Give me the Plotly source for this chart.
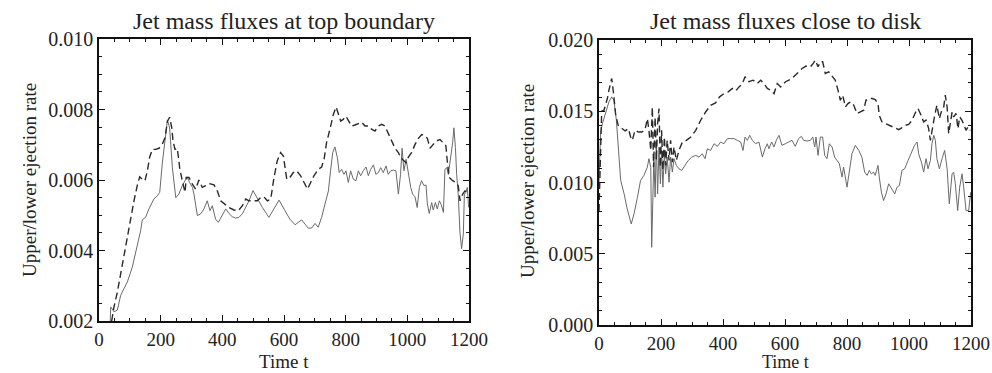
import plotly.graph_objects as go

# ---------------- data: left panel (top boundary) ----------------
t_top_solid = [36, 38, 48.6, 59.5, 70.3, 81, 92, 108, 124, 135, 140.5, 151, 162, 178, 189, 197, 205, 214, 222, 229, 238, 249, 259, 270, 279, 286, 294, 303, 308, 313.5, 319, 330, 340.5, 351, 360, 367.5, 378, 387, 400, 411, 421.6, 432, 443, 454, 465, 476, 486.5, 499.5, 513.5, 530, 551, 567.6, 584, 603, 619, 636, 646, 657, 668, 679, 690, 700.5, 711, 722, 733, 744, 751, 758, 765, 773, 779, 787, 794.5, 801, 808.6, 816, 825, 833.5, 841, 848.6, 857, 866, 873.5, 881, 890, 898, 906, 913.5, 922, 931, 938, 946, 954.5, 963, 971, 978, 983, 989, 996, 1003, 1011, 1017, 1025, 1032, 1039, 1046, 1054, 1060.5, 1065, 1071, 1079, 1084, 1091, 1097, 1104, 1110, 1117, 1122, 1128, 1133, 1140.5, 1147, 1151, 1156, 1160, 1165, 1171, 1176, 1181.6, 1185, 1190, 1194.5, 1199]
v_top_solid = [0.0019, 0.0024, 0.00226, 0.00231, 0.00273, 0.00292, 0.00311, 0.00353, 0.00409, 0.00456, 0.00487, 0.00494, 0.00518, 0.00546, 0.00555, 0.00565, 0.00645, 0.0072, 0.0077, 0.00748, 0.00635, 0.0055, 0.0056, 0.00584, 0.00598, 0.00609, 0.00593, 0.00579, 0.0056, 0.00522, 0.00499, 0.00504, 0.00518, 0.00541, 0.00513, 0.00527, 0.00489, 0.0048, 0.00499, 0.00518, 0.00505, 0.00496, 0.00492, 0.00494, 0.00504, 0.00522, 0.00541, 0.0057, 0.00546, 0.00522, 0.00494, 0.00518, 0.00543, 0.00513, 0.00489, 0.00473, 0.0048, 0.00487, 0.00475, 0.00463, 0.00464, 0.00477, 0.00466, 0.00494, 0.00532, 0.00569, 0.00626, 0.00678, 0.00694, 0.00664, 0.00621, 0.0063, 0.00616, 0.00626, 0.00593, 0.00626, 0.00602, 0.00598, 0.00626, 0.00612, 0.00626, 0.00637, 0.00612, 0.0063, 0.00643, 0.00616, 0.00621, 0.00635, 0.00621, 0.0064, 0.00616, 0.00626, 0.00628, 0.00626, 0.0056, 0.00616, 0.0069, 0.00626, 0.00659, 0.00616, 0.00579, 0.0056, 0.00552, 0.00522, 0.00579, 0.00598, 0.00584, 0.00586, 0.00532, 0.00505, 0.00536, 0.00515, 0.00536, 0.00518, 0.00541, 0.0053, 0.00508, 0.0063, 0.00635, 0.00616, 0.00659, 0.00706, 0.00748, 0.00692, 0.00616, 0.0056, 0.00447, 0.00405, 0.00447, 0.0056, 0.00565, 0.00579, 0.00522]

t_top_dash = [41, 48.6, 59.5, 70, 81, 92, 103, 113.5, 124, 132, 140.5, 149, 157, 164, 173, 184, 194.6, 205, 214, 222, 229, 236, 240, 246.5, 254, 261.6, 270, 279, 283, 292, 303, 313.5, 324, 335, 346, 357, 373, 384, 394.6, 408.6, 421.6, 438, 452, 465, 476, 486.5, 499.5, 513.5, 524, 535, 546, 557, 567.6, 578, 589, 598, 609, 619, 630, 641, 654, 665, 676, 686.5, 697, 711, 722, 730, 738, 749, 760, 769, 776, 784, 792, 801, 808.6, 819, 830, 841, 852, 862.6, 873.5, 884, 895, 906, 917, 927.5, 938, 949, 960, 971, 978, 987, 996, 1003, 1014, 1025, 1036, 1046.5, 1057, 1065, 1073.5, 1084, 1095, 1106, 1117, 1125, 1130, 1136, 1147, 1158, 1165, 1171, 1179.5, 1187, 1194.5, 1200]
v_top_dash = [0.0020, 0.0024, 0.00282, 0.00334, 0.00381, 0.00433, 0.00494, 0.00541, 0.00584, 0.00609, 0.00602, 0.00598, 0.00626, 0.00664, 0.00687, 0.00687, 0.0069, 0.00701, 0.0072, 0.00767, 0.00778, 0.00748, 0.00711, 0.00687, 0.0069, 0.00635, 0.00598, 0.00565, 0.00607, 0.00607, 0.00588, 0.00574, 0.006, 0.00579, 0.00584, 0.0059, 0.00586, 0.00569, 0.00541, 0.00532, 0.00522, 0.00515, 0.00513, 0.00527, 0.00546, 0.00541, 0.00541, 0.00541, 0.0055, 0.00552, 0.00541, 0.00546, 0.00607, 0.00654, 0.00678, 0.00668, 0.00602, 0.00607, 0.00621, 0.00626, 0.00612, 0.00593, 0.00574, 0.00593, 0.00612, 0.0063, 0.00637, 0.00659, 0.00706, 0.00744, 0.00786, 0.00807, 0.00791, 0.00767, 0.00772, 0.00781, 0.00769, 0.00753, 0.00756, 0.0076, 0.00764, 0.00753, 0.00753, 0.00744, 0.00739, 0.00753, 0.00758, 0.00753, 0.00734, 0.00711, 0.0069, 0.00678, 0.00664, 0.00656, 0.00649, 0.00664, 0.00678, 0.00701, 0.00718, 0.00729, 0.00725, 0.00718, 0.0069, 0.00701, 0.00711, 0.00715, 0.00706, 0.00697, 0.00649, 0.00607, 0.00598, 0.00593, 0.00584, 0.00541, 0.0056, 0.00569, 0.00565, 0.0056]

# ---------------- data: right panel (close to disk) ----------------
t_disk_solid = [0, 5, 11, 21.5, 32, 41, 48, 56, 62, 70, 81, 91, 104, 113, 124, 134, 145, 156, 161, 167, 170, 174, 177, 181, 185, 189, 193.5, 198, 202, 206, 211, 215, 220, 226, 231, 236.6, 242, 249.5, 258, 267, 277, 288, 299, 312, 322.6, 333, 342, 349.5, 360, 371, 382, 392.5, 403, 414, 425, 435.5, 446, 457, 464.5, 471, 478.5, 486, 494.6, 505, 516, 527, 535.5, 543, 548, 557, 564.5, 572, 580.6, 590, 601, 612, 622.6, 633, 644, 653, 660, 671, 682, 689.5, 696, 700, 706.5, 714, 721.5, 728, 735.5, 743, 752, 760, 768, 775.3, 784, 789, 800, 807.5, 816, 827, 838, 848, 857, 865, 872, 878.5, 886, 891, 900, 904, 911, 918, 926, 934.4, 945, 954, 961.3, 969, 977.4, 986, 997, 1010, 1018, 1026, 1031, 1040, 1047.3, 1055, 1061.3, 1069, 1074, 1080, 1085, 1090, 1098, 1106.5, 1115, 1123, 1130, 1139, 1144, 1149.5, 1157, 1163.5, 1171, 1176.4, 1184, 1192.5, 1199]
v_disk_solid = [0.0100, 0.0135, 0.01413, 0.01484, 0.01566, 0.01601, 0.01577, 0.01437, 0.01225, 0.01014, 0.0092, 0.00815, 0.00709, 0.0078, 0.00897, 0.01014, 0.0105, 0.01108, 0.01167, 0.01108, 0.00545, 0.01014, 0.01178, 0.00897, 0.01296, 0.0092, 0.01249, 0.00991, 0.01225, 0.00967, 0.01202, 0.01061, 0.01178, 0.01002, 0.01178, 0.01073, 0.01167, 0.0112, 0.01096, 0.01085, 0.0112, 0.01155, 0.01178, 0.0119, 0.01178, 0.01202, 0.01167, 0.01237, 0.01225, 0.01272, 0.01254, 0.01284, 0.01272, 0.01308, 0.01308, 0.01308, 0.01296, 0.01284, 0.01225, 0.01319, 0.01296, 0.01331, 0.01296, 0.01272, 0.01284, 0.01178, 0.01237, 0.01272, 0.01237, 0.01284, 0.01249, 0.01296, 0.01331, 0.01261, 0.01272, 0.01284, 0.01296, 0.01254, 0.01308, 0.01324, 0.01296, 0.01291, 0.01296, 0.01319, 0.01249, 0.01319, 0.0119, 0.01319, 0.01319, 0.0119, 0.01167, 0.01272, 0.01249, 0.01178, 0.01155, 0.01132, 0.01038, 0.01108, 0.00967, 0.01085, 0.01202, 0.01261, 0.01225, 0.01178, 0.01073, 0.0105, 0.01085, 0.01061, 0.01073, 0.0105, 0.0112, 0.01038, 0.00932, 0.00873, 0.0092, 0.00991, 0.00955, 0.0092, 0.00967, 0.00979, 0.01085, 0.01096, 0.01155, 0.01214, 0.01261, 0.01284, 0.01202, 0.01143, 0.01073, 0.01167, 0.01096, 0.01155, 0.01272, 0.01331, 0.01296, 0.01167, 0.01096, 0.01167, 0.01225, 0.01096, 0.0085, 0.01061, 0.01073, 0.00991, 0.00803, 0.00967, 0.01061, 0.00967, 0.00803, 0.00803, 0.00932]

t_disk_dash = [0, 4, 8.6, 16, 27, 32, 41, 47, 54, 62, 73, 84, 95, 102, 107.5, 116, 127, 137.6, 148, 156, 161, 167, 172, 176, 181, 185, 189, 193.5, 198, 202, 206, 211, 215, 220, 226, 231, 236.6, 242, 249.5, 258, 269, 282, 296, 312, 328, 344, 360, 376, 389, 403, 417, 430, 441, 451.6, 462, 471, 484, 497, 511, 521.5, 532, 543, 554, 564.5, 575, 586, 602, 622.6, 639, 655, 668, 682, 689.5, 698, 706.5, 714, 721.5, 730, 741, 752, 762, 771, 778.5, 786, 795, 803, 812, 822, 832, 843, 854, 861, 870, 881, 891, 900, 904, 913, 924, 934.4, 945, 956, 967, 977.4, 988, 999, 1010, 1020, 1029, 1036.5, 1047.3, 1055, 1063.5, 1069, 1076, 1083, 1090, 1098, 1104, 1112, 1117, 1123, 1128, 1133, 1139, 1144, 1152, 1158, 1163.5, 1171, 1176.4, 1184, 1190, 1198]
v_disk_dash = [0.0080, 0.0115, 0.015, 0.01507, 0.01589, 0.01648, 0.0173, 0.01624, 0.01472, 0.01401, 0.01378, 0.01362, 0.01378, 0.01319, 0.01296, 0.01366, 0.01354, 0.01354, 0.01366, 0.01448, 0.01366, 0.01225, 0.0153, 0.01108, 0.0146, 0.01155, 0.01413, 0.01519, 0.01108, 0.01366, 0.01085, 0.01319, 0.0112, 0.01296, 0.01155, 0.01296, 0.01143, 0.01249, 0.01155, 0.01225, 0.01284, 0.01296, 0.01319, 0.01366, 0.01437, 0.01495, 0.01542, 0.01559, 0.01601, 0.01624, 0.01636, 0.0166, 0.01643, 0.01671, 0.0169, 0.01742, 0.01707, 0.01718, 0.01695, 0.01718, 0.01695, 0.0166, 0.01648, 0.01624, 0.01695, 0.01671, 0.01707, 0.0173, 0.01765, 0.018, 0.01817, 0.01812, 0.01831, 0.01859, 0.01812, 0.01847, 0.01847, 0.01765, 0.01777, 0.01742, 0.01718, 0.01648, 0.01577, 0.01613, 0.0153, 0.01554, 0.01566, 0.01542, 0.01484, 0.01495, 0.01507, 0.01577, 0.01589, 0.01589, 0.01582, 0.01554, 0.01472, 0.01425, 0.01413, 0.01401, 0.0139, 0.01378, 0.01371, 0.01385, 0.01401, 0.01408, 0.01437, 0.01488, 0.01519, 0.01484, 0.01425, 0.01437, 0.01378, 0.01296, 0.01401, 0.01472, 0.01542, 0.01448, 0.01495, 0.0153, 0.01613, 0.0153, 0.01343, 0.01401, 0.01495, 0.0146, 0.01484, 0.01378, 0.0146, 0.01437, 0.01401, 0.01366, 0.0139, 0.01366]

titles = ["Jet mass fluxes at top boundary", "Jet mass fluxes close to disk"]
x_title = "Time t"
y_title = "Upper/lower ejection rate"

# ---------------- figure ----------------
W, H = 992, 373
FONT = "Liberation Serif"
INK = "#222222"

fig = go.Figure()
solid_style = dict(color="#6a6a6a", width=1)
dash_style = dict(color="#2a2a2a", width=1.4, dash="7px,4px")

fig.add_trace(go.Scatter(x=t_top_solid, y=v_top_solid, mode="lines", line=solid_style, xaxis="x", yaxis="y", showlegend=False))
fig.add_trace(go.Scatter(x=t_top_dash, y=v_top_dash, mode="lines", line=dash_style, xaxis="x", yaxis="y", showlegend=False))
fig.add_trace(go.Scatter(x=t_disk_solid, y=v_disk_solid, mode="lines", line=solid_style, xaxis="x2", yaxis="y2", showlegend=False))
fig.add_trace(go.Scatter(x=t_disk_dash, y=v_disk_dash, mode="lines", line=dash_style, xaxis="x2", yaxis="y2", showlegend=False))

def px_x(p):
    return p / W

def px_y(p):
    return 1 - p / H

common = dict(showline=True, linecolor="#111111", linewidth=1.6, mirror="ticks", ticks="inside",
              ticklen=6, tickwidth=1.4, tickcolor="#111111", showgrid=False, zeroline=False,
              tickfont=dict(family=FONT, size=20, color=INK))

xaxis_common = dict(common, range=[0, 1200], dtick=200, tick0=0,
                    tickfont=dict(family=FONT, size=19, color=INK),
                    minor=dict(dtick=50, ticklen=3, tickwidth=1.2, tickcolor="#111111", ticks="inside", showgrid=False))

fig.update_layout(
    width=W, height=H, margin=dict(l=0, r=0, t=0, b=0, autoexpand=False),
    paper_bgcolor="white", plot_bgcolor="white",
    xaxis=dict(xaxis_common, domain=[px_x(99), px_x(469)], anchor="y"),
    yaxis=dict(common, domain=[px_y(321), px_y(39)], anchor="x", range=[0.002, 0.010], dtick=0.002, tick0=0.002,
               tickformat=".3f",
               minor=dict(dtick=0.0005, ticklen=3, tickwidth=1.2, tickcolor="#111111", ticks="inside", showgrid=False)),
    xaxis2=dict(xaxis_common, domain=[px_x(599), px_x(971)], anchor="y2"),
    yaxis2=dict(common, domain=[px_y(325), px_y(40)], anchor="x2", range=[0, 0.020], dtick=0.005, tick0=0,
                tickformat=".3f",
                minor=dict(dtick=0.001, ticklen=3, tickwidth=1.2, tickcolor="#111111", ticks="inside", showgrid=False)),
)

ann = []
for title, cx in zip(titles, [284, 785]):
    ann.append(dict(text=title, x=px_x(cx), y=px_y(6), xref="paper", yref="paper",
                    xanchor="center", yanchor="top", showarrow=False,
                    font=dict(family=FONT, size=24, color=INK)))
for cx, fs in [(284, 19), (785, 18)]:
    ann.append(dict(text=x_title, x=px_x(cx), y=0, xref="paper", yref="paper",
                    xanchor="center", yanchor="bottom", showarrow=False, borderpad=0,
                    font=dict(family=FONT, size=fs, color=INK)))
for cx, cy in [(29, 180), (527, 181)]:
    ann.append(dict(text=y_title, x=px_x(cx), y=px_y(cy), xref="paper", yref="paper",
                    xanchor="center", yanchor="middle", showarrow=False, textangle=-90,
                    font=dict(family=FONT, size=19, color=INK)))
fig.update_layout(annotations=ann)

fig.write_html("out.html")
